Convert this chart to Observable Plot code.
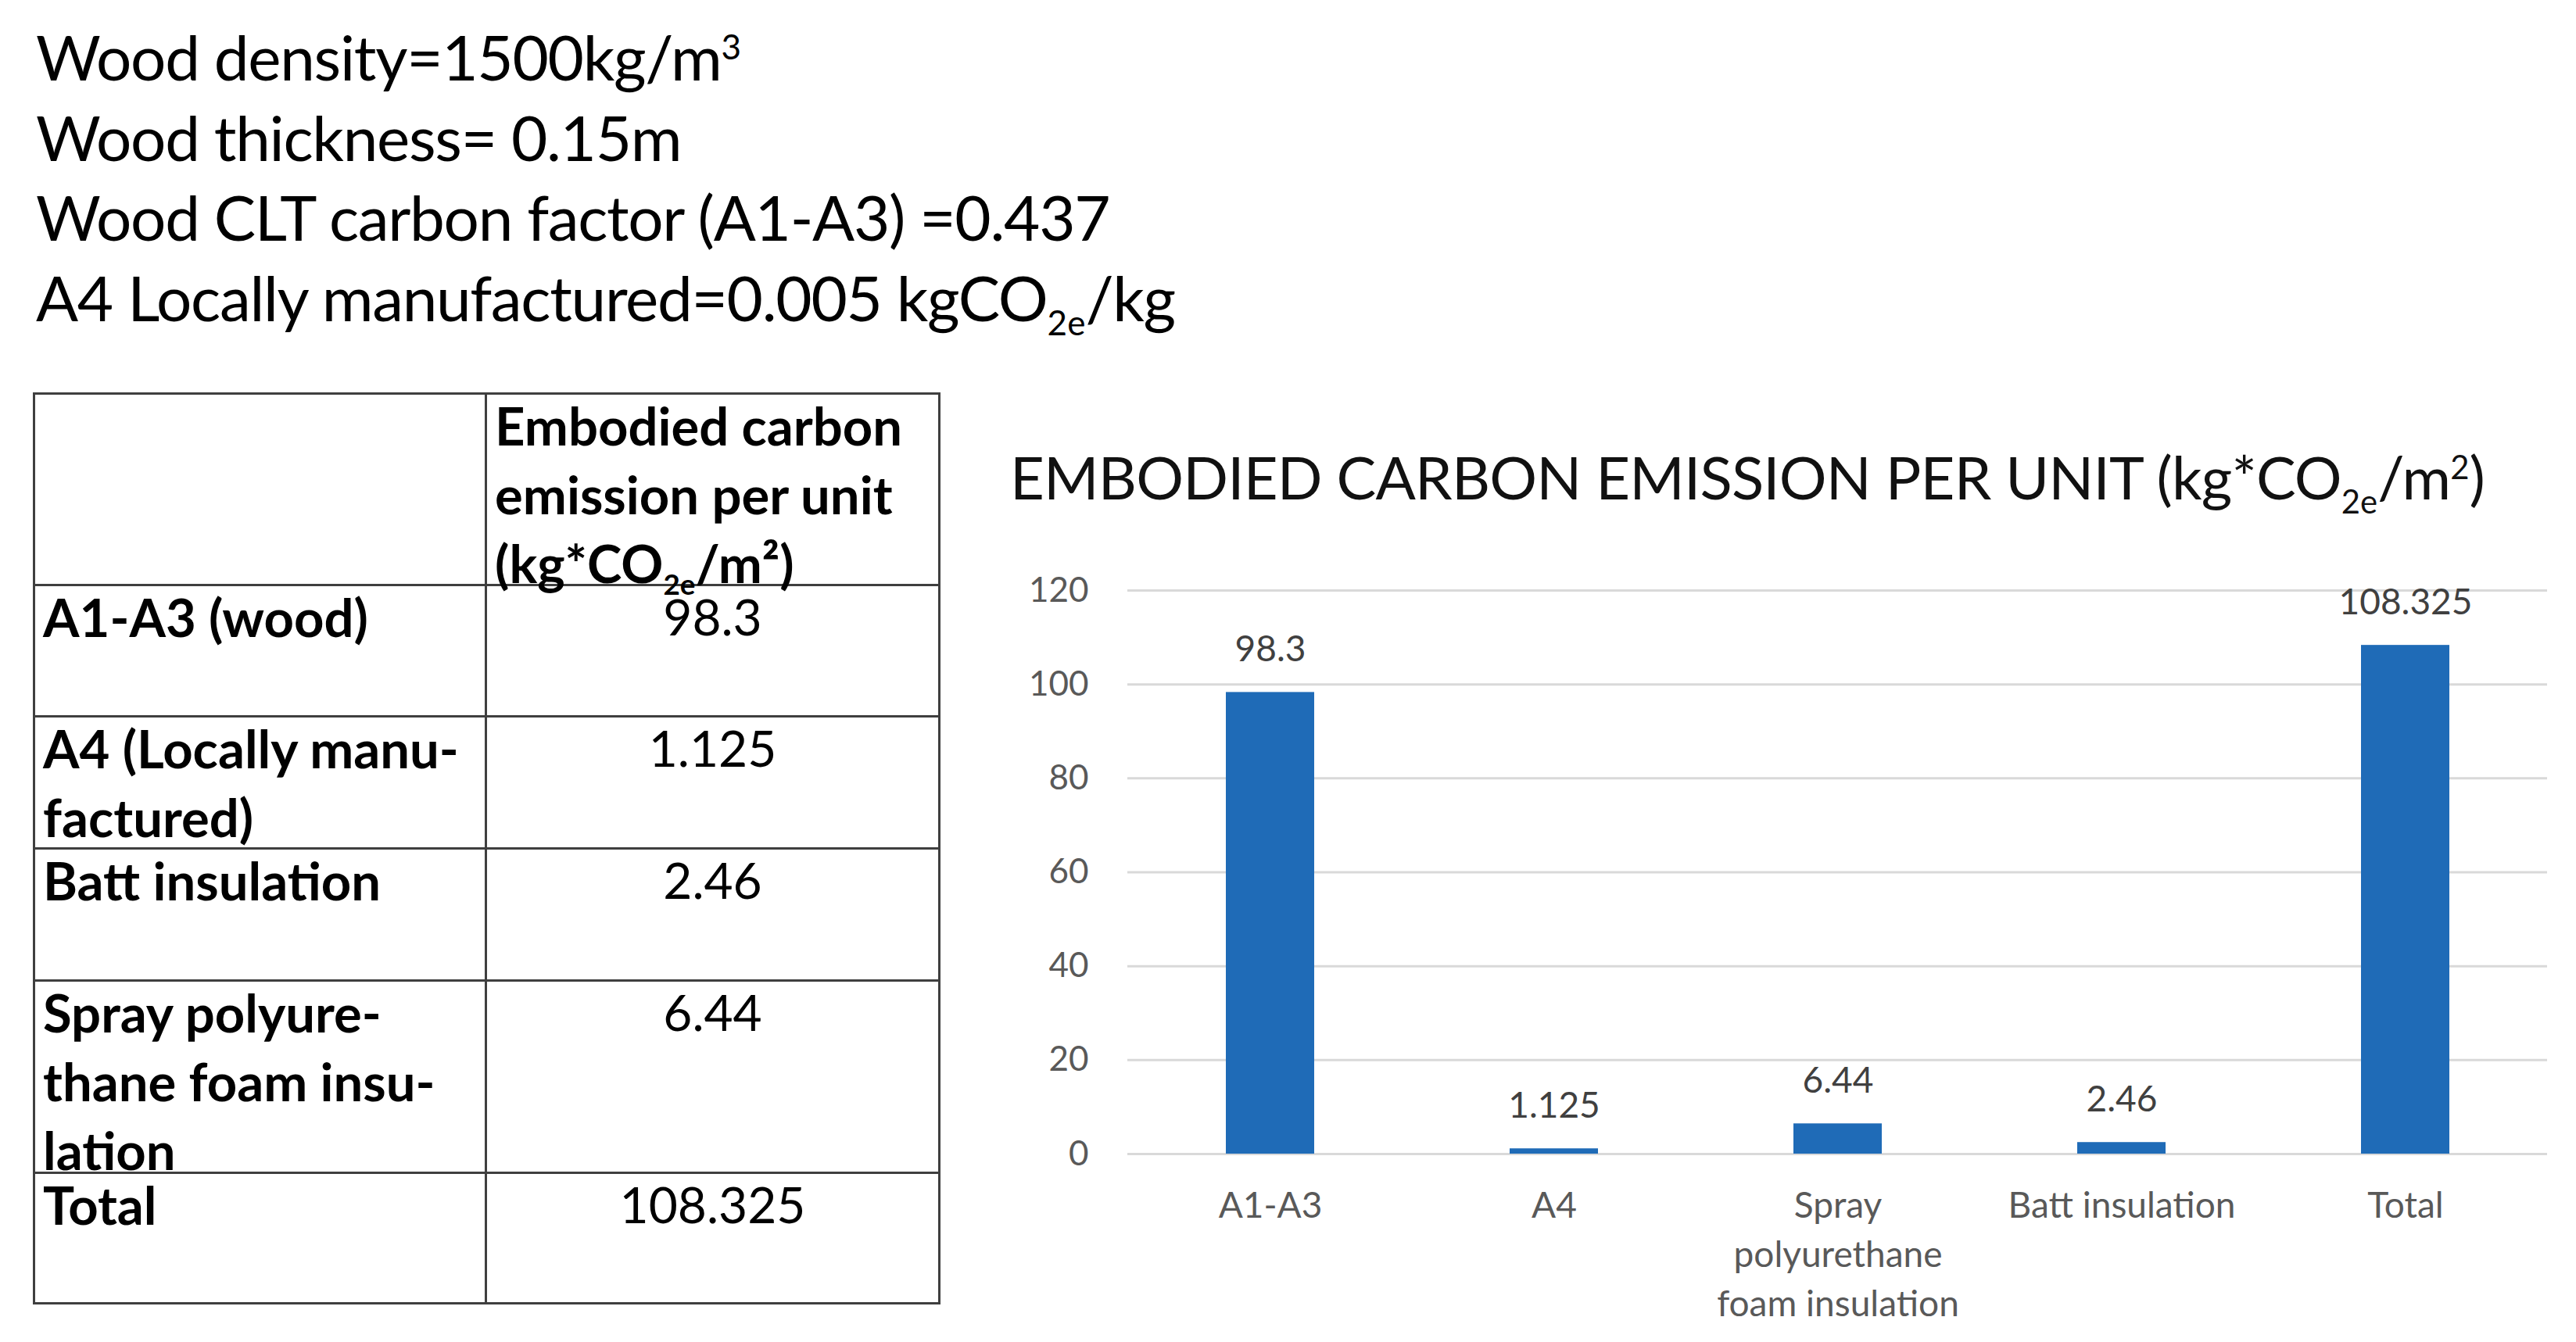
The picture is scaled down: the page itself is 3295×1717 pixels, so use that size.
<!DOCTYPE html>
<html>
<head>
<meta charset="utf-8">
<script src="https://cdn.jsdelivr.net/npm/d3@7"></script>
<script src="https://cdn.jsdelivr.net/npm/@observablehq/plot@0.6"></script>
<style>
  html, body { margin: 0; padding: 0; background: #fff; }
  body { width: 3295px; height: 1717px; position: relative; overflow: hidden; font-family: Lato, "Open Sans", sans-serif; color: #000; }
  #notes { position: absolute; left: 46px; top: 21px; font-size: 80px; letter-spacing: -1.3px; line-height: 102.5px; white-space: nowrap; }
  #notes sub { font-size: 0.55em; vertical-align: -0.42em; line-height: 0; letter-spacing: 0; }
  #notes sup { font-size: 0.55em; vertical-align: 0.62em; line-height: 0; letter-spacing: 0; }
  #tbl { position: absolute; left: 42px; top: 502px; border-collapse: collapse; table-layout: fixed; }
  #tbl td { border: 3px solid #3f3f3f; padding: 0 0 0 10px; vertical-align: top; font-size: 64px; line-height: 88px; white-space: pre; overflow: visible; }
  #tbl td .in { position: relative; top: -5px; height: 0; overflow: visible; }
  #tbl td.lab, #tbl td.hd { font-weight: 700; font-size: 67px; }
  #tbl td.val { text-align: center; padding: 0; }
  #tbl sub { font-size: 0.55em; vertical-align: -0.42em; line-height: 0; }
  #title { position: absolute; left: 1292px; top: 560px; font-size: 76px; letter-spacing: -0.8px; line-height: 100px; white-space: nowrap; color: #111; }
  #title sub { font-size: 0.55em; vertical-align: -0.42em; line-height: 0; letter-spacing: 0; }
  #title sup { font-size: 0.55em; vertical-align: 0.62em; line-height: 0; letter-spacing: 0; }
  #chart { position: absolute; left: 1260px; top: 680px; }
</style>
</head>
<body>
<div id="notes"></div>
<table id="tbl"></table>
<div id="title"></div>
<div id="chart"></div>
<script>
// ---- text content ----
const noteLines = [
  "Wood density=1500kg/m<sup>3</sup>",
  "Wood thickness= 0.15m",
  "Wood CLT carbon factor (A1-A3) =0.437",
  "A4 Locally manufactured=0.005 kgCO<sub>2e</sub>/kg"
];
const tableHeader = "Embodied carbon\nemission per unit\n(kg*CO<sub>2e</sub>/m²)";
const tableRowLabels = [
  "A1-A3 (wood)",
  "A4 (Locally manu-\nfactured)",
  "Batt insulation",
  "Spray polyure-\nthane foam insu-\nlation",
  "Total"
];
const tableValues = ["98.3", "1.125", "2.46", "6.44", "108.325"];
const chartTitle = "EMBODIED CARBON EMISSION PER UNIT (kg*CO<sub>2e</sub>/m<sup>2</sup>)";

// ---- chart data ----
const categories = ["A1-A3", "A4", "Spray polyurethane foam insulation", "Batt insulation", "Total"];
const categoryLabels = ["A1-A3", "A4", "Spray\npolyurethane\nfoam insulation", "Batt insulation", "Total"];
const values = [98.3, 1.125, 6.44, 2.46, 108.325];
const valueLabels = ["98.3", "1.125", "6.44", "2.46", "108.325"];
const yTicks = [0, 20, 40, 60, 80, 100, 120];

// ---- notes ----
document.getElementById("notes").innerHTML = noteLines.join("<br>");

// ---- table ----
const rowHeights = [245, 168, 169, 169, 246, 167];
const tbl = document.getElementById("tbl");
const colg = document.createElement("colgroup");
colg.innerHTML = '<col style="width:578px"><col style="width:580px">';
tbl.appendChild(colg);
{
  const tr = document.createElement("tr");
  tr.style.height = rowHeights[0] + "px";
  tr.innerHTML = '<td></td><td class="hd"><div class="in">' + tableHeader + '</div></td>';
  tbl.appendChild(tr);
}
tableRowLabels.forEach((lab, i) => {
  const tr = document.createElement("tr");
  tr.style.height = rowHeights[i + 1] + "px";
  const a = document.createElement("td"); a.className = "lab";
  const ai = document.createElement("div"); ai.className = "in"; ai.textContent = lab; a.appendChild(ai);
  const b = document.createElement("td"); b.className = "val";
  const bi = document.createElement("div"); bi.className = "in"; bi.textContent = tableValues[i]; b.appendChild(bi);
  tr.appendChild(a); tr.appendChild(b);
  tbl.appendChild(tr);
});

// ---- title ----
document.getElementById("title").innerHTML = chartTitle;

// ---- chart ----
const data = categories.map((c, i) => ({cat: c, value: values[i], label: valueLabels[i]}));
const chart = Plot.plot({
  width: 2035,
  height: 1037,
  marginLeft: 182,
  marginRight: 37,
  marginTop: 75,
  marginBottom: 241,
  x: {domain: categories, paddingInner: 0.69, paddingOuter: 0.345, label: null},
  y: {domain: [0, 120], label: null},
  style: {fontFamily: "Lato, sans-serif", fontSize: "44px", background: "transparent", overflow: "visible"},
  marks: [
    Plot.gridY(yTicks, {stroke: "#d9d9d9", strokeOpacity: 1, strokeWidth: 3}),
    Plot.barY(data, {x: "cat", y: "value", fill: "#1f6bb7"}),
    Plot.text(data, {x: "cat", y: "value", text: "label", dy: -40, lineAnchor: "bottom", fontSize: 46, fill: "#404040"}),
    Plot.axisY(yTicks, {tickSize: 0, tickPadding: 50, fontSize: 44, fill: "#595959", label: null}),
    Plot.axisX({tickSize: 0, tickPadding: 37, fontSize: 46, fill: "#595959", lineHeight: 1.37, label: null,
      tickFormat: d => categoryLabels[categories.indexOf(d)]})
  ]
});
document.getElementById("chart").appendChild(chart);
</script>
</body>
</html>
